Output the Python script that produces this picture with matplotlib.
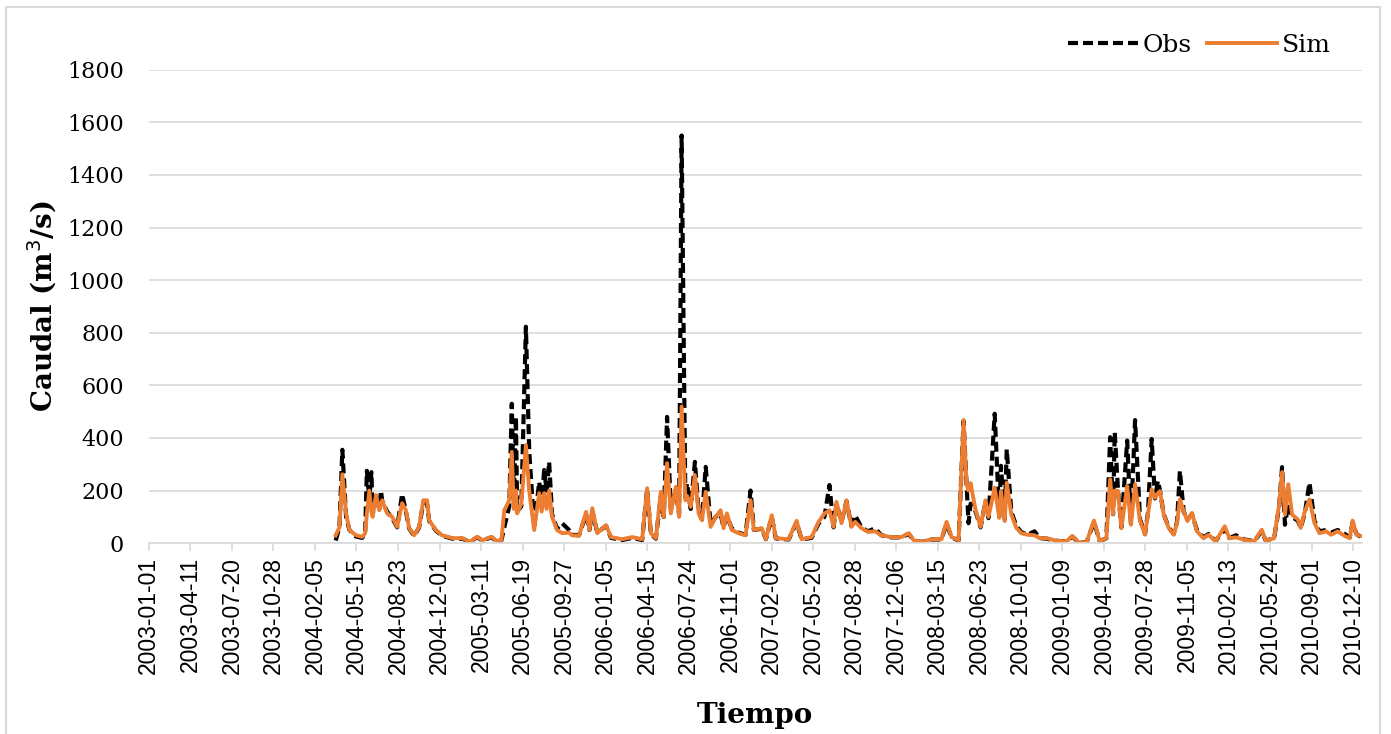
import matplotlib
matplotlib.use("Agg")
import matplotlib.pyplot as plt
import pandas as pd
from matplotlib.patches import Rectangle

fechas = [
    "2004-03-26", "2004-04-04", "2004-04-11", "2004-04-20", "2004-04-28", "2004-05-14",
    "2004-05-29", "2004-06-05", "2004-06-09", "2004-06-15", "2004-06-20", "2004-06-23",
    "2004-07-01", "2004-07-09", "2004-07-13", "2004-07-16", "2004-07-28", "2004-08-09",
    "2004-08-21", "2004-09-02", "2004-09-11", "2004-09-19", "2004-10-01", "2004-10-13",
    "2004-10-23", "2004-11-01", "2004-11-06", "2004-11-22", "2004-12-07",
    "2005-01-01", "2005-01-25", "2005-02-11", "2005-03-02", "2005-03-14", "2005-04-05",
    "2005-04-17", "2005-04-29", "2005-05-06", "2005-05-18", "2005-05-24", "2005-05-29",
    "2005-06-03", "2005-06-06", "2005-06-16", "2005-06-27", "2005-07-05", "2005-07-17",
    "2005-07-29", "2005-08-04", "2005-08-10", "2005-08-16", "2005-08-22", "2005-08-29",
    "2005-09-10", "2005-09-22", "2005-10-09", "2005-10-16", "2005-11-02", "2005-11-19",
    "2005-11-27", "2005-12-04", "2005-12-16",
    "2006-01-06", "2006-01-18", "2006-02-14", "2006-03-10", "2006-04-03", "2006-04-15",
    "2006-04-24", "2006-05-06", "2006-05-18", "2006-05-25", "2006-06-02", "2006-06-11",
    "2006-06-23", "2006-07-01", "2006-07-07", "2006-07-16", "2006-07-20", "2006-07-29",
    "2006-08-08", "2006-08-17", "2006-08-25", "2006-09-03", "2006-09-15", "2006-09-27",
    "2006-10-09", "2006-10-16", "2006-10-24", "2006-11-05", "2006-11-21", "2006-12-08",
    "2006-12-20", "2006-12-28",
    "2007-01-16", "2007-01-26", "2007-02-09", "2007-02-19", "2007-03-22", "2007-04-10",
    "2007-04-22", "2007-05-16", "2007-06-02", "2007-06-16", "2007-06-28", "2007-07-08",
    "2007-07-15", "2007-07-27", "2007-08-08", "2007-08-20", "2007-08-29", "2007-09-13",
    "2007-09-29", "2007-10-16", "2007-10-31", "2007-11-24", "2007-12-18",
    "2008-01-05", "2008-01-17", "2008-02-05", "2008-02-29", "2008-03-24", "2008-04-05",
    "2008-04-17", "2008-05-04", "2008-05-16", "2008-05-23", "2008-05-28", "2008-06-02",
    "2008-06-14", "2008-06-26", "2008-07-08", "2008-07-15", "2008-07-30", "2008-08-10",
    "2008-08-14", "2008-08-23", "2008-08-28", "2008-09-08", "2008-09-20", "2008-10-02",
    "2008-10-17", "2008-11-03", "2008-11-15", "2008-12-02", "2008-12-26",
    "2009-01-19", "2009-02-02", "2009-02-16", "2009-03-08", "2009-03-26", "2009-04-09",
    "2009-04-25", "2009-05-04", "2009-05-11", "2009-05-15", "2009-05-23", "2009-05-31",
    "2009-06-14", "2009-06-23", "2009-07-03", "2009-07-15", "2009-07-27", "2009-08-03",
    "2009-08-12", "2009-08-20", "2009-08-27", "2009-09-01", "2009-09-10", "2009-09-22",
    "2009-10-04", "2009-10-12", "2009-10-19", "2009-10-28", "2009-11-06", "2009-11-17",
    "2009-11-29", "2009-12-15", "2009-12-27",
    "2010-01-13", "2010-02-04", "2010-02-15", "2010-03-03", "2010-03-23", "2010-04-16",
    "2010-05-04", "2010-05-14", "2010-06-03", "2010-06-15", "2010-06-22", "2010-06-29",
    "2010-07-07", "2010-07-16", "2010-07-30", "2010-08-06", "2010-08-16", "2010-08-27",
    "2010-09-08", "2010-09-20", "2010-10-06", "2010-10-18", "2010-11-03", "2010-11-20",
    "2010-12-02", "2010-12-09", "2010-12-18", "2010-12-30",
]

obs = [
    10, 60, 355, 100, 50, 25,
    20, 40, 275, 170, 270, 110,
    180, 130, 200, 160, 120, 95,
    60, 187, 120, 55, 28, 60,
    155, 150, 85, 48, 28,
    17, 17, 5, 22, 10, 22,
    8, 10, 60, 140, 530, 150,
    480, 120, 140, 823, 350, 60,
    233, 150, 278, 200, 309, 110,
    55, 76, 50, 32, 30, 110,
    50, 120, 40,
    66, 20, 12, 20, 12, 205,
    35, 17, 180, 100, 480, 130,
    200, 110, 1550, 170, 228, 130,
    309, 120, 90, 290, 70, 100,
    110, 60, 105, 55, 40, 32,
    200, 50,
    55, 15, 100, 18, 14, 80,
    14, 20, 75, 100, 221, 60,
    150, 80, 160, 65, 106, 60,
    45, 57, 30, 22, 22,
    35, 10, 5, 14, 14, 75,
    22, 10, 465, 230, 76, 150,
    120, 60, 160, 95, 492, 100,
    294, 90, 357, 120, 65, 42,
    32, 45, 19, 17, 9,
    7, 25, 4, 3, 80, 7,
    19, 403, 110, 422, 200, 60,
    390, 75, 468, 90, 35, 115,
    396, 170, 237, 200, 110, 60,
    35, 80, 275, 120, 90, 110,
    50, 22, 35,
    8, 55, 19, 30, 14, 8,
    45, 9, 20, 140, 289, 70,
    150, 100, 85, 58, 115, 230,
    85, 45, 50, 40, 50, 35,
    22, 80, 35, 22,
]

sim = [
    30, 60, 262, 113, 50, 30,
    24, 38, 113, 200, 120, 100,
    183, 125, 150, 163, 113, 100,
    62, 152, 125, 57, 30, 62,
    163, 163, 87, 50, 30,
    19, 19, 5, 24, 11, 24,
    9, 11, 125, 163, 347, 130,
    200, 113, 150, 373, 200, 50,
    190, 120, 190, 130, 200, 100,
    50, 38, 40, 30, 28, 119,
    50, 133, 38,
    68, 23, 15, 23, 15, 209,
    38, 19, 195, 100, 304, 113,
    214, 100, 519, 163, 180, 138,
    259, 113, 87, 195, 62, 100,
    125, 57, 113, 50, 38, 30,
    163, 50,
    57, 15, 106, 19, 15, 85,
    15, 23, 81, 113, 125, 62,
    157, 76, 163, 62, 81, 57,
    43, 45, 30, 23, 23,
    38, 11, 5, 15, 15, 81,
    23, 11, 468, 228, 200, 228,
    125, 62, 163, 100, 211, 96,
    198, 84, 230, 109, 58, 38,
    32, 30, 19, 19, 9,
    7, 27, 4, 3, 86, 7,
    19, 243, 110, 200, 198, 57,
    217, 70, 224, 84, 32, 110,
    205, 173, 190, 198, 109, 58,
    32, 77, 166, 122, 84, 115,
    45, 19, 32,
    7, 64, 19, 22, 13, 7,
    51, 9, 19, 147, 270, 109,
    224, 109, 90, 58, 122, 166,
    77, 38, 45, 32, 45, 27,
    19, 86, 32, 27,
]

tick_labels = [
    "2003-01-01", "2003-04-11", "2003-07-20", "2003-10-28", "2004-02-05", "2004-05-15",
    "2004-08-23", "2004-12-01", "2005-03-11", "2005-06-19", "2005-09-27", "2006-01-05",
    "2006-04-15", "2006-07-24", "2006-11-01", "2007-02-09", "2007-05-20", "2007-08-28",
    "2007-12-06", "2008-03-15", "2008-06-23", "2008-10-01", "2009-01-09", "2009-04-19",
    "2009-07-28", "2009-11-05", "2010-02-13", "2010-05-24", "2010-09-01", "2010-12-10",
]

fechas = pd.to_datetime(fechas)
ticks = pd.to_datetime(tick_labels)

fig = plt.figure(figsize=(13.91, 7.34), dpi=100)
ax = fig.add_axes([0.107, 0.26, 0.872, 0.645])

ax.plot(fechas, obs, color="black", lw=3.0, linestyle=(0, (2.4, 1.2)), label="Obs")
ax.plot(fechas, sim, color="#ED7D31", lw=2.8, label="Sim")

ax.set_xlim(pd.Timestamp("2003-01-01"), pd.Timestamp("2010-12-31"))
ax.set_ylim(0, 1800)
ax.set_yticks(range(0, 1801, 200))
ax.set_yticklabels([str(v) for v in range(0, 1801, 200)], fontsize=16,
                   family="DejaVu Serif")
ax.set_xticks(ticks)
ax.set_xticklabels(tick_labels, rotation=90, fontsize=16.5, family="Liberation Sans")

ax.grid(axis="y", color="#D9D9D9", lw=1.2)
ax.set_axisbelow(True)
for s in ["top", "right", "left"]:
    ax.spines[s].set_visible(False)
ax.spines["bottom"].set_color("#D9D9D9")
ax.spines["bottom"].set_linewidth(1.2)
ax.tick_params(axis="y", length=0, pad=18)
ax.tick_params(axis="x", length=6, color="#D9D9D9", width=1.2, pad=4)

ax.set_ylabel("Caudal (m$^3$/s)", fontsize=20, family="DejaVu Serif", fontweight="bold",
              labelpad=6)
ax.set_xlabel("Tiempo", fontsize=20, family="DejaVu Serif", fontweight="bold", labelpad=20)

ax.legend(loc="upper right", bbox_to_anchor=(0.973, 0.985), bbox_transform=fig.transFigure,
          ncol=2, frameon=False, handlelength=2.8, columnspacing=0.6, handletextpad=0.2,
          prop={"family": "DejaVu Serif", "size": 18})

fig.patches.append(Rectangle((0.0043, -0.01), 0.988, 1.0005, transform=fig.transFigure,
                             fill=False, edgecolor="#D9D9D9", lw=1.5))

fig.savefig("out.png", dpi=100)
